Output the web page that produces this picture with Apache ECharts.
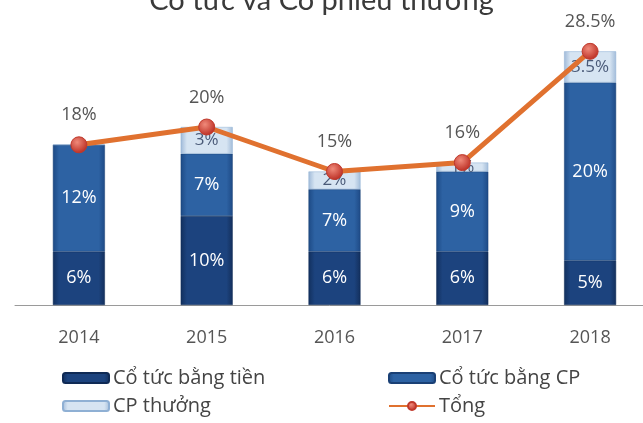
<!DOCTYPE html>
<html><head><meta charset="utf-8">
<script src="https://cdn.jsdelivr.net/npm/echarts@6/dist/echarts.min.js"></script>
<style>html,body{margin:0;padding:0;background:#fff}#c{width:643px;height:423px}</style>
</head><body><div id="c"></div>
<script>
const categories = ['2014','2015','2016','2017','2018'];
const cashDiv = [6, 10, 6, 6, 5];
const stockDiv = [12, 7, 7, 9, 20];
const bonusShares = [0, 3, 2, 1, 3.5];
const total = [18, 20, 15, 16, 28.5];
const seriesNames = ['Cổ tức bằng tiền','Cổ tức bằng CP','CP thưởng','Tổng'];
const titleText = 'Cổ tức và Cổ phiếu thưởng';

const FONT = 'Open Sans';
function hGrad(c1, c2, c3){
  return {type:'linear',x:0,y:0,x2:1,y2:0,colorStops:[
    {offset:0,color:c1},{offset:0.12,color:c2},{offset:0.88,color:c2},{offset:1,color:c3}]};
}
const cDark = hGrad('#12305e','#1c437e','#132f5c');
const cMid = hGrad('#1d4a85','#2d62a3','#1e4a86');
const cLight = hGrad('#9fb9d8','#d6e4f2','#a2bcd9');

const legendPos = [[62,368],[388,368],[62,396],[388,396]];
const legends = seriesNames.map((n,i)=>({
  left:legendPos[i][0], top:legendPos[i][1], itemWidth:46, itemHeight:10, padding:0, itemGap:0,
  data:[n], textStyle:{fontFamily:FONT,fontSize:20,color:'#444',padding:[0,0,0,-1]}
}));

const chart = echarts.init(document.getElementById('c'), null, {renderer:'canvas'});
chart.setOption({
  animation:false,
  backgroundColor:'#fff',
  title:{text:titleText,left:'center',top:-19,textStyle:{fontFamily:'Lato',fontSize:29,fontWeight:'normal',color:'#3a3a3a'}},
  grid:{left:15,width:639,top:38,bottom:118,containLabel:false,outerBoundsMode:'none'},
  xAxis:{type:'category',data:categories,
    axisLine:{show:true,lineStyle:{color:'#9a9a9a',width:1}},
    axisTick:{show:false},
    axisLabel:{color:'#555',fontFamily:FONT,fontSize:18,margin:24}},
  yAxis:{type:'value',min:0,max:30,show:false,splitLine:{show:false}},
  legend:legends,
  series:[
    {name:seriesNames[0],type:'bar',stack:'a',barWidth:52,data:cashDiv,
     itemStyle:{color:cDark,borderColor:'#0f2a55',borderWidth:0.5},
     label:{show:true,position:'inside',color:'#fff',fontFamily:FONT,fontSize:18,formatter:p=>p.value+'%'}},
    {name:seriesNames[1],type:'bar',stack:'a',barWidth:52,data:stockDiv,
     itemStyle:{color:cMid,borderColor:'#1a4075',borderWidth:0.5},
     label:{show:true,position:'inside',color:'#fff',fontFamily:FONT,fontSize:18,formatter:p=>p.value+'%'}},
    {name:seriesNames[2],type:'bar',stack:'a',barWidth:52,data:bonusShares,
     itemStyle:{color:cLight,borderColor:'#8fb0d4',borderWidth:0.5},
     label:{show:true,position:'inside',color:'#4a5a78',fontFamily:FONT,fontSize:17,
       formatter:p=>p.value?p.value+'%':''}},
    {name:seriesNames[3],type:'line',data:total,
     symbol:'circle',symbolSize:16,z:5,
     lineStyle:{color:'#e0712f',width:5},
     itemStyle:{color:{type:'radial',x:0.4,y:0.35,r:0.7,colorStops:[{offset:0,color:'#f08a7a'},{offset:1,color:'#b8281e'}]},borderColor:'#c0392b',borderWidth:1},
     label:{show:true,position:'top',distance:12,color:'#555',fontFamily:FONT,fontSize:18,formatter:p=>p.value+'%'}}
  ]
});
</script></body></html>
